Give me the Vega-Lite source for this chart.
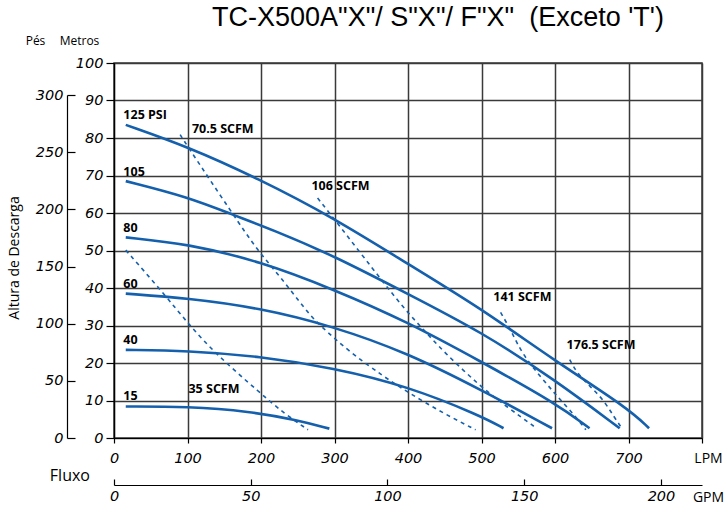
{
  "$schema": "https://vega.github.io/schema/vega-lite/v6.json",
  "width": 588,
  "height": 375,
  "autosize": {"type": "none"},
  "padding": {"left": 114, "top": 63, "right": 23, "bottom": 70},
  "background": "white",
  "title": {
    "text": "TC-X500A\"X\"/ S\"X\"/ F\"X\" \u00a0(Exceto 'T')",
    "font": "Liberation Sans",
    "fontSize": 27,
    "fontWeight": "normal",
    "color": "black",
    "anchor": "middle",
    "dx": 30,
    "offset": 2,
    "frame": "group"
  },
  "config": {"view": {"stroke": "#3a3a3a", "strokeWidth": 1.5}},
  "datasets": {
    "curves": [
      {"s": "125", "k": "psi", "lpm": 16, "m": 83.5},
      {"s": "125", "k": "psi", "lpm": 100, "m": 77.7},
      {"s": "125", "k": "psi", "lpm": 195, "m": 69.3},
      {"s": "125", "k": "psi", "lpm": 298, "m": 58.8},
      {"s": "125", "k": "psi", "lpm": 399, "m": 46.5},
      {"s": "125", "k": "psi", "lpm": 499, "m": 34.6},
      {"s": "125", "k": "psi", "lpm": 598, "m": 20.8},
      {"s": "125", "k": "psi", "lpm": 699, "m": 8.0},
      {"s": "125", "k": "psi", "lpm": 728, "m": 2.6},
      {"s": "105", "k": "psi", "lpm": 16, "m": 68.5},
      {"s": "105", "k": "psi", "lpm": 100, "m": 64.3},
      {"s": "105", "k": "psi", "lpm": 162, "m": 59.5},
      {"s": "105", "k": "psi", "lpm": 216, "m": 55.5},
      {"s": "105", "k": "psi", "lpm": 298, "m": 48.7},
      {"s": "105", "k": "psi", "lpm": 399, "m": 38.5},
      {"s": "105", "k": "psi", "lpm": 499, "m": 28.4},
      {"s": "105", "k": "psi", "lpm": 600, "m": 15.5},
      {"s": "105", "k": "psi", "lpm": 688, "m": 2.6},
      {"s": "80", "k": "psi", "lpm": 16, "m": 53.5},
      {"s": "80", "k": "psi", "lpm": 100, "m": 51.8},
      {"s": "80", "k": "psi", "lpm": 199, "m": 47.1},
      {"s": "80", "k": "psi", "lpm": 298, "m": 39.7},
      {"s": "80", "k": "psi", "lpm": 399, "m": 31.0},
      {"s": "80", "k": "psi", "lpm": 499, "m": 20.4},
      {"s": "80", "k": "psi", "lpm": 600, "m": 9.4},
      {"s": "80", "k": "psi", "lpm": 647, "m": 2.6},
      {"s": "60", "k": "psi", "lpm": 16, "m": 38.5},
      {"s": "60", "k": "psi", "lpm": 100, "m": 37.3},
      {"s": "60", "k": "psi", "lpm": 198, "m": 34.7},
      {"s": "60", "k": "psi", "lpm": 298, "m": 29.8},
      {"s": "60", "k": "psi", "lpm": 399, "m": 22.7},
      {"s": "60", "k": "psi", "lpm": 499, "m": 12.9},
      {"s": "60", "k": "psi", "lpm": 596, "m": 2.6},
      {"s": "40", "k": "psi", "lpm": 16, "m": 23.5},
      {"s": "40", "k": "psi", "lpm": 100, "m": 23.3},
      {"s": "40", "k": "psi", "lpm": 198, "m": 21.8},
      {"s": "40", "k": "psi", "lpm": 298, "m": 18.7},
      {"s": "40", "k": "psi", "lpm": 400, "m": 13.8},
      {"s": "40", "k": "psi", "lpm": 499, "m": 5.9},
      {"s": "40", "k": "psi", "lpm": 530, "m": 2.6},
      {"s": "15", "k": "psi", "lpm": 16, "m": 8.4},
      {"s": "15", "k": "psi", "lpm": 100, "m": 8.4},
      {"s": "15", "k": "psi", "lpm": 185, "m": 7.1},
      {"s": "15", "k": "psi", "lpm": 249, "m": 4.8},
      {"s": "15", "k": "psi", "lpm": 293, "m": 2.5},
      {"s": "35", "k": "scfm", "lpm": 16, "m": 50.1},
      {"s": "35", "k": "scfm", "lpm": 67, "m": 38.7},
      {"s": "35", "k": "scfm", "lpm": 102, "m": 30.2},
      {"s": "35", "k": "scfm", "lpm": 139.5, "m": 22.2},
      {"s": "35", "k": "scfm", "lpm": 199, "m": 12.0},
      {"s": "35", "k": "scfm", "lpm": 231, "m": 6.6},
      {"s": "35", "k": "scfm", "lpm": 264, "m": 2.2},
      {"s": "70.5", "k": "scfm", "lpm": 90, "m": 80.9},
      {"s": "70.5", "k": "scfm", "lpm": 100, "m": 77.8},
      {"s": "70.5", "k": "scfm", "lpm": 162, "m": 59.6},
      {"s": "70.5", "k": "scfm", "lpm": 196, "m": 49.8},
      {"s": "70.5", "k": "scfm", "lpm": 226, "m": 43.1},
      {"s": "70.5", "k": "scfm", "lpm": 262, "m": 33.8},
      {"s": "70.5", "k": "scfm", "lpm": 279, "m": 30.2},
      {"s": "70.5", "k": "scfm", "lpm": 322, "m": 22.7},
      {"s": "70.5", "k": "scfm", "lpm": 367, "m": 16.4},
      {"s": "70.5", "k": "scfm", "lpm": 398, "m": 12.4},
      {"s": "70.5", "k": "scfm", "lpm": 448, "m": 6.6},
      {"s": "70.5", "k": "scfm", "lpm": 492, "m": 2.2},
      {"s": "106", "k": "scfm", "lpm": 277, "m": 64.0},
      {"s": "106", "k": "scfm", "lpm": 298, "m": 58.8},
      {"s": "106", "k": "scfm", "lpm": 335, "m": 49.4},
      {"s": "106", "k": "scfm", "lpm": 367, "m": 41.4},
      {"s": "106", "k": "scfm", "lpm": 394, "m": 34.7},
      {"s": "106", "k": "scfm", "lpm": 421, "m": 28.9},
      {"s": "106", "k": "scfm", "lpm": 448, "m": 23.1},
      {"s": "106", "k": "scfm", "lpm": 498, "m": 13.8},
      {"s": "106", "k": "scfm", "lpm": 534, "m": 8.4},
      {"s": "106", "k": "scfm", "lpm": 575, "m": 2.6},
      {"s": "141", "k": "scfm", "lpm": 526, "m": 33.5},
      {"s": "141", "k": "scfm", "lpm": 541, "m": 28.4},
      {"s": "141", "k": "scfm", "lpm": 555, "m": 22.5},
      {"s": "141", "k": "scfm", "lpm": 580, "m": 16.4},
      {"s": "141", "k": "scfm", "lpm": 603, "m": 11.1},
      {"s": "141", "k": "scfm", "lpm": 626, "m": 6.2},
      {"s": "141", "k": "scfm", "lpm": 642, "m": 2.2},
      {"s": "176.5", "k": "scfm", "lpm": 620, "m": 20.9},
      {"s": "176.5", "k": "scfm", "lpm": 630, "m": 17.3},
      {"s": "176.5", "k": "scfm", "lpm": 648, "m": 13.7},
      {"s": "176.5", "k": "scfm", "lpm": 666, "m": 10.2},
      {"s": "176.5", "k": "scfm", "lpm": 680, "m": 5.7},
      {"s": "176.5", "k": "scfm", "lpm": 691, "m": 2.6}
    ],
    "labels": [
      {"t": "125 PSI", "g": "curve", "lpm": 12.7, "m": 86.2},
      {"t": "105", "g": "curve", "lpm": 12.7, "m": 70.9},
      {"t": "80", "g": "curve", "lpm": 12.7, "m": 56.0},
      {"t": "60", "g": "curve", "lpm": 12.7, "m": 41.0},
      {"t": "40", "g": "curve", "lpm": 12.7, "m": 26.2},
      {"t": "15", "g": "curve", "lpm": 12.7, "m": 11.1},
      {"t": "70.5 SCFM", "g": "curve", "lpm": 106, "m": 82.3},
      {"t": "106 SCFM", "g": "curve", "lpm": 268.6, "m": 67.3},
      {"t": "141 SCFM", "g": "curve", "lpm": 516, "m": 37.6},
      {"t": "176.5 SCFM", "g": "curve", "lpm": 615.8, "m": 24.9},
      {"t": "35 SCFM", "g": "curve", "lpm": 101.3, "m": 13.0},
      {"t": "Fluxo", "g": "flow", "lpm": -60, "m": -10.1},
      {"t": "Altura de Descarga", "g": "head", "lpm": -134.7, "m": 48}
    ]
  },
  "layer": [
    {
      "encoding": {
        "x": {
          "field": "lpm", "type": "quantitative",
          "scale": {"domain": [0, 800], "nice": false, "zero": false},
          "axis": {
            "orient": "bottom",
            "values": [0, 100, 200, 300, 400, 500, 600, 700, 800],
            "labelExpr": "datum.value == 800 ? '' : datum.label",
            "grid": true, "gridColor": "#3a3a3a", "gridWidth": 1.5,
            "domainColor": "black", "domainWidth": 1.2,
            "tickColor": "black", "tickSize": 5, "tickWidth": 1.2,
            "labelPadding": 8, "labelFont": "DejaVu Sans", "labelFontStyle": "italic",
            "labelFontSize": 14.5, "labelColor": "black", "labelFlush": false,
            "labelOverlap": false, "labelBound": false,
            "title": "LPM", "titleX": 594, "titleY": 20, "titleAngle": 0,
            "titleAlign": "center", "titleBaseline": "middle",
            "titleFont": "Open Sans", "titleFontSize": 14, "titleFontWeight": "normal", "titleColor": "black"
          }
        },
        "y": {
          "field": "m", "type": "quantitative",
          "scale": {"domain": [0, 100], "nice": false, "zero": false},
          "axis": {
            "orient": "left",
            "values": [0, 10, 20, 30, 40, 50, 60, 70, 80, 90, 100],
            "grid": true, "gridColor": "#3a3a3a", "gridWidth": 1.5,
            "domainColor": "black", "domainWidth": 1.2,
            "tickColor": "black", "tickSize": 8, "tickWidth": 1.2,
            "labelPadding": 3, "labelFont": "DejaVu Sans", "labelFontStyle": "italic",
            "labelFontSize": 14.5, "labelColor": "black", "labelFlush": false,
            "labelOverlap": false, "labelBound": false,
            "title": "Metros", "titleX": -35, "titleY": -23, "titleAngle": 0,
            "titleAlign": "center", "titleBaseline": "middle",
            "titleFont": "Open Sans", "titleFontSize": 12, "titleFontWeight": "normal", "titleColor": "black"
          }
        }
      },
      "layer": [
        {
          "data": {"name": "curves"},
          "transform": [{"filter": "datum.k == 'scfm'"}],
          "mark": {"type": "line", "interpolate": "basis", "color": "#1560ad", "strokeWidth": 1.6, "strokeDash": [4, 4]},
          "encoding": {"detail": {"field": "s"}}
        },
        {
          "data": {"name": "curves"},
          "transform": [{"filter": "datum.k == 'psi'"}],
          "mark": {"type": "line", "interpolate": "basis", "color": "#1560ad", "strokeWidth": 2.6},
          "encoding": {"detail": {"field": "s"}}
        },
        {
          "data": {"name": "labels"},
          "transform": [{"filter": "datum.g == 'curve'"}],
          "mark": {"type": "text", "align": "left", "baseline": "middle", "font": "Open Sans", "fontWeight": "bold", "fontSize": 12.5, "color": "black", "clip": false},
          "encoding": {"text": {"field": "t"}}
        },
        {
          "data": {"name": "labels"},
          "transform": [{"filter": "datum.g == 'flow'"}],
          "mark": {"type": "text", "align": "center", "baseline": "middle", "font": "Open Sans", "fontSize": 16, "color": "black", "clip": false},
          "encoding": {"text": {"field": "t"}}
        },
        {
          "data": {"name": "labels"},
          "transform": [{"filter": "datum.g == 'head'"}],
          "mark": {"type": "text", "align": "center", "baseline": "middle", "angle": 270, "font": "Open Sans", "fontSize": 14, "color": "black", "clip": false},
          "encoding": {"text": {"field": "t"}}
        }
      ]
    },
    {
      "data": {"values": [{"ft": 0}, {"ft": 300}]},
      "mark": {"type": "point", "opacity": 0},
      "encoding": {
        "y": {
          "field": "ft", "type": "quantitative",
          "scale": {"domain": [0, 300], "range": [375, 32.1], "nice": false, "zero": false},
          "axis": {
            "orient": "left", "offset": 47,
            "values": [0, 50, 100, 150, 200, 250, 300],
            "grid": false,
            "domainColor": "black", "domainWidth": 1.2,
            "tickColor": "black", "tickSize": -8, "tickWidth": 1.2,
            "labelPadding": 12, "labelFont": "DejaVu Sans", "labelFontStyle": "italic",
            "labelFontSize": 14.5, "labelColor": "black", "labelFlush": false,
            "labelOverlap": false, "labelBound": false,
            "title": "Pés", "titleX": -32, "titleY": -23, "titleAngle": 0,
            "titleAlign": "center", "titleBaseline": "middle",
            "titleFont": "Open Sans", "titleFontSize": 12, "titleFontWeight": "normal", "titleColor": "black"
          }
        }
      }
    },
    {
      "data": {"values": [{"gpm": 0}, {"gpm": 215}]},
      "mark": {"type": "point", "opacity": 0},
      "encoding": {
        "x": {
          "field": "gpm", "type": "quantitative",
          "scale": {"domain": [0, 215], "nice": false, "zero": false},
          "axis": {
            "orient": "bottom", "offset": 47,
            "values": [0, 50, 100, 150, 200],
            "grid": false,
            "domainColor": "black", "domainWidth": 1.2,
            "tickColor": "black", "tickSize": -6, "tickWidth": 1.2,
            "labelPadding": 10, "labelFont": "DejaVu Sans", "labelFontStyle": "italic",
            "labelFontSize": 14.5, "labelColor": "black", "labelFlush": false,
            "labelOverlap": false, "labelBound": false,
            "title": "GPM", "titleX": 594, "titleY": 12, "titleAngle": 0,
            "titleAlign": "center", "titleBaseline": "middle",
            "titleFont": "Open Sans", "titleFontSize": 14, "titleFontWeight": "normal", "titleColor": "black"
          }
        }
      }
    }
  ],
  "resolve": {"scale": {"x": "independent", "y": "independent"}}
}
